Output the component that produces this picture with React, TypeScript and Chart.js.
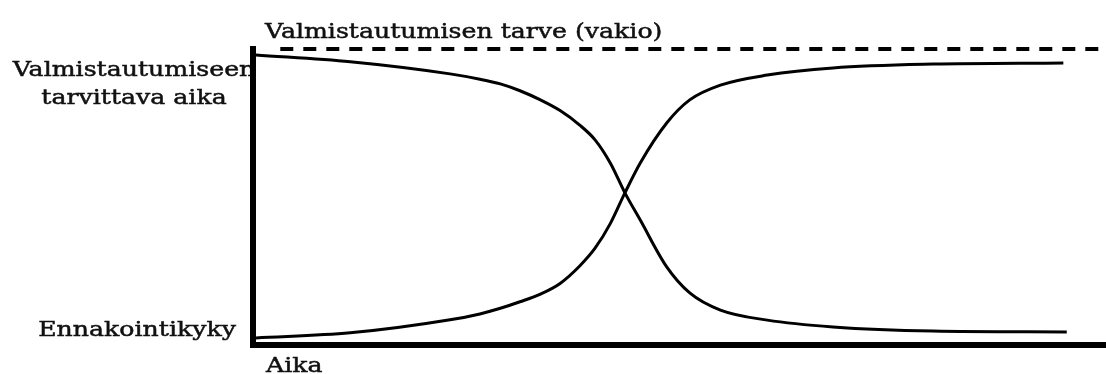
import React, { useEffect, useRef } from "react";
import { Chart, registerables } from "chart.js";

Chart.register(...registerables);

// Time axis (0 = start, 100 = end), relative units
const fallX = [0.35, 11.4, 23.1, 26.6, 29.0, 31.3, 33.7, 36.0, 38.3, 40.1, 41.9, 43.6, 45.4, 48.5, 51.2, 54.8, 60.3, 68.0, 79.7, 95.4];
const fallY = [98.0, 95.7, 91.6, 89.8, 88.2, 85.9, 82.8, 79.2, 74.3, 69.3, 61.4, 51.4, 42.2, 26.4, 17.6, 11.8, 8.4, 6.1, 4.7, 4.4];

const riseX = [0.35, 11.4, 23.1, 26.6, 29.0, 31.3, 33.7, 36.0, 38.3, 40.1, 41.9, 43.6, 45.4, 48.5, 51.2, 54.8, 60.3, 68.0, 79.7, 95.0];
const riseY = [2.4, 4.1, 8.5, 10.5, 12.4, 14.6, 17.2, 20.8, 26.7, 32.7, 41.1, 51.4, 61.5, 75.0, 82.8, 87.8, 91.2, 93.6, 94.9, 95.3];

const constX = [3.2, 100];
const constY = [100, 100];

const titleText = "Valmistautumisen tarve (vakio)";
const topLabelLines = ["Valmistautumiseen", "tarvittava aika"];
const bottomLabel = "Ennakointikyky";
const xLabel = "Aika";

const toPoints = (xs: number[], ys: number[]) => xs.map((x, i) => ({ x, y: ys[i] }));

function drawText(
  ctx: CanvasRenderingContext2D,
  text: string,
  x: number,
  y: number,
  align: CanvasTextAlign
) {
  ctx.save();
  ctx.font = '21px "DejaVu Serif"';
  ctx.fillStyle = "#111";
  ctx.strokeStyle = "#111";
  ctx.lineWidth = 0.5;
  ctx.textBaseline = "alphabetic";
  ctx.textAlign = align;
  ctx.translate(x, y);
  ctx.scale(1.2, 1);
  ctx.fillText(text, 0, 0);
  ctx.strokeText(text, 0, 0);
  ctx.restore();
}

const labelsPlugin = {
  id: "labelsPlugin",
  beforeDraw(chart: any) {
    const { ctx, chartArea } = chart;
    const L = chartArea.left;
    const T = chartArea.top;
    const B = chartArea.bottom;
    drawText(ctx, titleText, L + 12, T - 11, "left");
    drawText(ctx, topLabelLines[0], L - 119, T + 27, "center");
    drawText(ctx, topLabelLines[1], L - 119, T + 55, "center");
    drawText(ctx, bottomLabel, L - 17, B - 9, "right");
    drawText(ctx, xLabel, L + 13, B + 27, "left");
  },
};

export default function App() {
  const ref = useRef<HTMLCanvasElement | null>(null);

  useEffect(() => {
    if (!ref.current) return;
    const chart = new Chart(ref.current, {
      type: "line",
      data: {
        datasets: [
          {
            label: "Valmistautumiseen tarvittava aika",
            data: toPoints(fallX, fallY),
            borderColor: "#000",
            borderWidth: 3,
            pointRadius: 0,
            cubicInterpolationMode: "monotone",
            clip: false,
          } as any,
          {
            label: "Ennakointikyky",
            data: toPoints(riseX, riseY),
            borderColor: "#000",
            borderWidth: 3,
            pointRadius: 0,
            cubicInterpolationMode: "monotone",
            clip: false,
          } as any,
          {
            label: "Valmistautumisen tarve (vakio)",
            data: toPoints(constX, constY),
            borderColor: "#000",
            borderWidth: 4,
            borderDash: [13, 10],
            pointRadius: 0,
            clip: false,
          } as any,
        ],
      },
      options: {
        responsive: false,
        animation: false,
        layout: { padding: { left: 253, top: 49, right: 0, bottom: 29 } },
        plugins: {
          legend: { display: false },
          tooltip: { enabled: false },
        },
        scales: {
          x: {
            type: "linear",
            min: 0,
            max: 100,
            grid: { display: false, drawTicks: false },
            ticks: { display: false },
            border: { display: true, width: 6, color: "#000" },
          },
          y: {
            type: "linear",
            min: 0,
            max: 100,
            grid: { display: false, drawTicks: false },
            ticks: { display: false },
            border: { display: true, width: 6, color: "#000" },
          },
        },
      },
      plugins: [labelsPlugin],
    });
    return () => chart.destroy();
  }, []);

  return (
    <div style={{ position: "fixed", left: 0, top: 0, width: 1106, height: 374, background: "#fff" }}>
      <canvas ref={ref} width={1106} height={374} style={{ display: "block" }} />
    </div>
  );
}
